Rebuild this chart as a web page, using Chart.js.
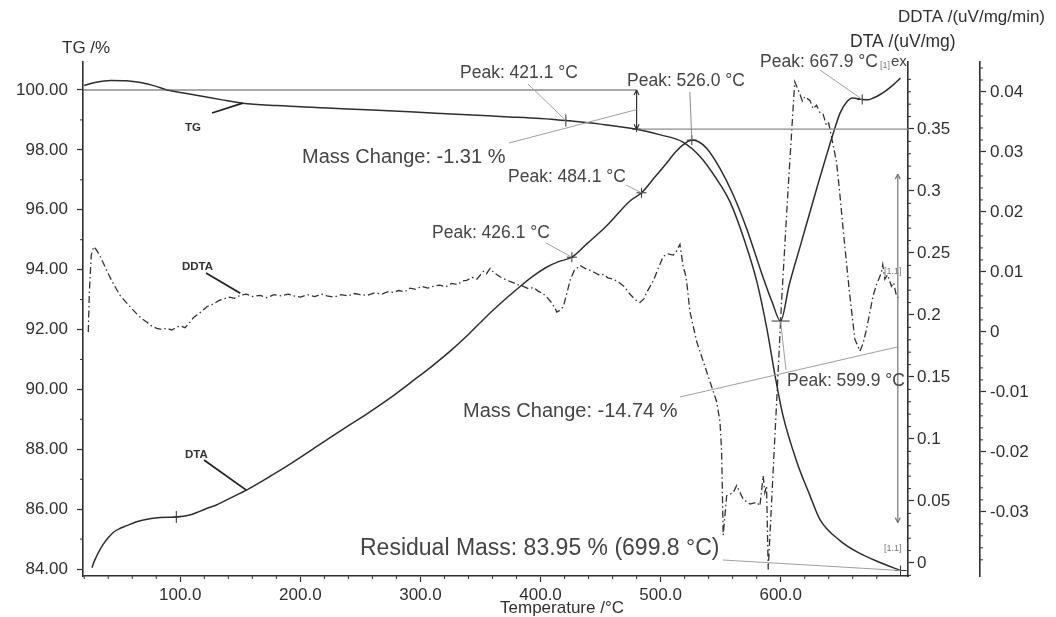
<!DOCTYPE html>
<html>
<head>
<meta charset="utf-8">
<title>TG / DTA / DDTA</title>
<script src="https://cdn.jsdelivr.net/npm/chart.js@4.4.1/dist/chart.umd.min.js"></script>
<style>
  html, body { margin: 0; padding: 0; background: #fff; }
  #wrap { width: 1056px; height: 617px; }
</style>
</head>
<body>
<div id="wrap"><canvas id="c" width="1056" height="617"></canvas></div>
<script>
// ---- Measured curves (temperature in °C) ----
// TG: mass in %
const tgTemp = [20, 30, 42, 55, 67, 80, 89, 100, 117, 135, 152, 180, 222, 260, 291, 330, 370, 400,
  421.1, 450, 480, 500, 518.6, 532.8, 545.2, 557.7, 570.2, 580.2, 588.5, 595.2, 601.8, 613.5,
  624.3, 632.6, 649.3, 665.9, 682.6, 699.8];
const tgMass = [100.15, 100.26, 100.32, 100.31, 100.25, 100.12, 100.00, 99.92, 99.80, 99.67, 99.56,
  99.48, 99.40, 99.33, 99.27, 99.19, 99.11, 99.05, 98.98, 98.86, 98.69, 98.50, 98.26, 97.78, 97.11,
  96.27, 94.93, 93.59, 92.02, 90.48, 89.14, 87.57, 86.46, 85.66, 84.95, 84.52, 84.22, 83.95];

// DTA: uV/mg
const dtaTemp = [26.5, 28, 30, 33, 36.1, 40, 44.4, 50, 55.5, 63, 72.3, 83.4, 96.7, 107, 116.6, 123,
  130.5, 142, 155.5, 175, 194.3, 215, 235.9, 257, 277.5, 295, 310, 325, 338.6, 352, 366.3, 380,
  394, 405, 415, 426.1, 438.5, 455.1, 474.5, 484.1, 495, 505.1, 512, 518.9, 526.0, 532,
  538.3, 549.4, 560.5, 571.6, 585.2, 593, 599.9, 607, 616.2, 630.1, 643.9, 649.5, 655.1, 660,
  667.9, 673, 677.5, 682.8, 688, 693.9, 699.8];
const dtaSignal = [-0.0038, 0.0005, 0.0048, 0.0105, 0.0154, 0.0203, 0.0248, 0.0280, 0.0301, 0.0330,
  0.0353, 0.0366, 0.0371, 0.0385, 0.0418, 0.0443, 0.0470, 0.0525, 0.0590, 0.0700, 0.0816, 0.0948,
  0.1081, 0.1213, 0.1350, 0.1478, 0.1590, 0.1710, 0.1830, 0.1960, 0.2090, 0.2205, 0.2315,
  0.2385, 0.2430, 0.2466, 0.2573, 0.2719, 0.2919, 0.2985, 0.3110, 0.3226, 0.3310, 0.3373, 0.3410,
  0.3395, 0.3345, 0.3183, 0.2968, 0.2698, 0.2306, 0.2100, 0.1951, 0.2240, 0.2553, 0.3024, 0.3470,
  0.3630, 0.3720, 0.3750, 0.3738, 0.3736, 0.3752, 0.3778, 0.3812, 0.3858, 0.3911];

// DDTA: uV/mg/min
const ddtaTemp = [23.4, 24.3, 25.9, 27.9, 30.1, 33, 36.1, 40, 44.4, 50.1, 55.5, 60, 63.8, 68, 72.3,
  76, 80.5, 85, 88.9, 93, 97, 100, 104, 108, 111.1, 116, 122.2, 128, 132, 136, 141, 145, 150, 155,
  160, 166.6, 172, 178, 184, 190, 194.1, 200, 206, 212, 218, 222.1, 228, 234, 240, 245, 249.8, 256,
  262, 268, 273, 277.3, 282, 287, 291.4, 296, 301, 306, 310.8, 316, 321, 326, 331, 335, 338.6, 343,
  347, 352.4, 355, 358, 361, 366.3, 371, 376, 381, 385.7, 390, 394, 398, 402, 405.2, 409, 412,
  413.5, 416, 419, 422, 424.6, 428, 432.9, 437, 441, 445, 449.5, 453, 456, 460, 463.4, 467, 470,
  474, 477.3, 480, 482.8, 486, 489, 493.9, 498, 502.2, 506, 510.5, 513, 516.1, 518.9, 520.3, 521.7,
  524.4, 530, 535.5, 541.1, 546.6, 549.4, 550.8, 552.1, 555, 560.5, 563.3, 568.8, 574.4, 580, 582.7,
  585.4, 586.8, 588.2, 589.6, 593.8, 596.6, 600.7, 606, 611.7, 615.9, 618, 620, 624.3, 627, 629.8,
  633, 635.3, 638.1, 640, 642.3, 646.5, 649, 652, 655, 657.6, 661.7, 665.9, 668.5, 671.4, 674,
  676.9, 680, 683.9, 685, 686.7, 689, 692.2, 694, 696.4, 698];
const ddtaSignal = [0.0000, 0.0067, 0.0128, 0.0142, 0.0137, 0.0127, 0.0114, 0.0097, 0.0080, 0.0060,
  0.0048, 0.0038, 0.0030, 0.0022, 0.0016, 0.0010, 0.0006, 0.0004, 0.0006, 0.0003, 0.0008, 0.0010,
  0.0007, 0.0016, 0.0024, 0.0031, 0.0042, 0.0047, 0.0052, 0.0055, 0.0058, 0.0056, 0.0061, 0.0063,
  0.0059, 0.0061, 0.0057, 0.0062, 0.0060, 0.0063, 0.0060, 0.0058, 0.0062, 0.0059, 0.0063, 0.0060,
  0.0058, 0.0062, 0.0060, 0.0064, 0.0062, 0.0061, 0.0065, 0.0063, 0.0067, 0.0066, 0.0069, 0.0067,
  0.0073, 0.0071, 0.0076, 0.0073, 0.0076, 0.0078, 0.0075, 0.0081, 0.0079, 0.0085, 0.0086, 0.0091,
  0.0088, 0.0101, 0.0097, 0.0106, 0.0099, 0.0092, 0.0087, 0.0083, 0.0079, 0.0076, 0.0072, 0.0074,
  0.0068, 0.0064, 0.0058, 0.0049, 0.0040, 0.0033, 0.0036, 0.0042, 0.0065, 0.0086, 0.0102, 0.0111,
  0.0106, 0.0103, 0.0099, 0.0094, 0.0096, 0.0090, 0.0088, 0.0085, 0.0080, 0.0075, 0.0064, 0.0057,
  0.0052, 0.0049, 0.0055, 0.0068, 0.0085, 0.0106, 0.0126, 0.0130, 0.0128, 0.0134, 0.0146, 0.0107,
  0.0099, 0.0084, 0.0034, -0.0016, -0.0049, -0.0083, -0.0116, -0.0149, -0.0199, -0.0339, -0.0273,
  -0.0268, -0.0256, -0.0279, -0.0287, -0.0284, -0.0290, -0.0240, -0.0268, -0.0257, -0.0396, -0.0228,
  -0.0117, 0.0050, 0.0233, 0.0417, 0.0397, 0.0385, 0.0392, 0.0386, 0.0372, 0.0378, 0.0364, 0.0363,
  0.0344, 0.0348, 0.0325, 0.0283, 0.0235, 0.0171, 0.0110, 0.0060, -0.0012, -0.0032, -0.0020, 0.0004,
  0.0030, 0.0060, 0.0080, 0.0099, 0.0112, 0.0088, 0.0095, 0.0076, 0.0082, 0.0060, 0.0057];

// ---- Evaluation results ----
const tgPeaks = [421.1];
const dtaPeaks = [426.1, 484.1, 526.0, 599.9, 667.9];
const stepBoundary = 480;          // °C, end of first mass step
const massStart = 100.00;          // %
const massChanges = [-1.31, -14.74];
const residualMass = 83.95, residualTemp = 699.8;

// ---- Axis tick values ----
const tempTicks = [100, 200, 300, 400, 500, 600];
const tgTicks = [84, 86, 88, 90, 92, 94, 96, 98, 100];
const dtaTicks = [0, 0.05, 0.1, 0.15, 0.2, 0.25, 0.3, 0.35];
const ddtaTicks = [-0.03, -0.02, -0.01, 0, 0.01, 0.02, 0.03, 0.04];

const FONT = '"Liberation Sans", Arial, Helvetica, sans-serif';
const INK = '#303030';
const NOTE = '#454545';
const POINTER = '#a0a0a0';

const toPoints = (xs, ys) => xs.map((x, i) => ({ x, y: ys[i] }));

function valueAt(xs, ys, t) {
  for (let i = 1; i < xs.length; i++) {
    if (t <= xs[i]) {
      const f = (t - xs[i - 1]) / (xs[i] - xs[i - 1]);
      return ys[i - 1] + f * (ys[i] - ys[i - 1]);
    }
  }
  return ys[ys.length - 1];
}

const fixedTicks = (values) => (s) => { s.ticks = values.map(v => ({ value: v })); };
const trimNum = (v) => String(+v.toFixed(2));

function seg(ctx, x1, y1, x2, y2, color, w) {
  ctx.beginPath();
  ctx.moveTo(x1, y1);
  ctx.lineTo(x2, y2);
  ctx.strokeStyle = color;
  ctx.lineWidth = w;
  ctx.stroke();
}
function label(ctx, str, x, y, size, color, align, weight) {
  ctx.font = (weight ? weight + ' ' : '') + size + 'px ' + FONT;
  ctx.fillStyle = color;
  ctx.textAlign = align || 'left';
  ctx.textBaseline = 'middle';
  ctx.fillText(str, x, y);
}
function cross(ctx, x, y, hw, hh) {
  seg(ctx, x - hw, y, x + hw, y, INK, 1);
  seg(ctx, x, y - hh, x, y + hh, INK, 1);
}
function vArrow(ctx, x, y1, y2, color, w) {
  seg(ctx, x, y1, x, y2, color, w);
  const d = y2 > y1 ? 1 : -1;
  seg(ctx, x - 2.5, y1 + d * 5, x, y1, color, w);
  seg(ctx, x + 2.5, y1 + d * 5, x, y1, color, w);
  seg(ctx, x - 2.5, y2 - d * 5, x, y2, color, w);
  seg(ctx, x + 2.5, y2 - d * 5, x, y2, color, w);
}

// Minor ticks, mass-step construction, peak markers and all captions
const annotate = {
  id: 'annotate',
  beforeDraw(chart) {
    const ctx = chart.ctx;
    ctx.save();
    ctx.fillStyle = '#ffffff';
    ctx.fillRect(0, 0, chart.width, chart.height);
    ctx.restore();
  },
  afterDraw(chart) {
    const ctx = chart.ctx;
    const X = chart.scales.x, TG = chart.scales.yTG, DT = chart.scales.yDTA, DD = chart.scales.yDDTA;
    const px = t => X.getPixelForValue(t);
    const tgY = v => TG.getPixelForValue(v);
    const dtY = v => DT.getPixelForValue(v);
    const ddY = v => DD.getPixelForValue(v);
    const tgAt = t => tgY(valueAt(tgTemp, tgMass, t));
    const dtAt = t => dtY(valueAt(dtaTemp, dtaSignal, t));
    const ddAt = t => ddY(valueAt(ddtaTemp, ddtaSignal, t));

    ctx.save();
    ctx.lineCap = 'butt';

    // minor ticks
    for (let k = 1; k <= 35; k++) if (k % 5) seg(ctx, px(k * 20), X.top, px(k * 20), X.top + 3, INK, 1);
    for (let v = 85; v <= 99; v += 2) seg(ctx, TG.right - 3, tgY(v), TG.right, tgY(v), INK, 1);
    for (let k = -1; k <= 40; k++) if (k % 5) seg(ctx, DT.left, dtY(k / 100), DT.left + 3, dtY(k / 100), INK, 1);
    for (let k = -20; k <= 22; k++) if (k % 5) seg(ctx, DD.left, ddY(k / 500), DD.left + 3, ddY(k / 500), INK, 1);

    // mass-step construction
    const m1 = massStart + massChanges[0];
    const m2 = m1 + massChanges[1];
    seg(ctx, X.left, tgY(massStart), px(stepBoundary), tgY(massStart), '#555', 1.2);
    seg(ctx, px(stepBoundary), tgY(m1), X.right, tgY(m1), '#8a8a8a', 1.2);
    vArrow(ctx, px(stepBoundary), tgY(massStart), tgY(m1), '#333', 1.2);
    const arrowT = 697.5;
    vArrow(ctx, px(arrowT), tgY(m1 - 1.5), tgY(m2 + 1.6), '#777', 1.2);

    // markers
    cross(ctx, px(tgPeaks[0]), tgAt(tgPeaks[0]), 5, 6);
    cross(ctx, px(stepBoundary), tgY(m1), 4, 3);
    cross(ctx, px(residualTemp), tgY(residualMass), 6, 5);
    cross(ctx, px(96.7), dtAt(96.7), 4, 6);
    dtaPeaks.forEach((t, i) => cross(ctx, px(t), dtAt(t), i === 3 ? 9 : 5, i === 3 ? 3 : 5));

    // pointer lines
    seg(ctx, 528, 84, px(tgPeaks[0]), tgAt(tgPeaks[0]), POINTER, 1);
    seg(ctx, 546, 243, px(dtaPeaks[0]), dtAt(dtaPeaks[0]), POINTER, 1);
    seg(ctx, 626, 185, px(dtaPeaks[1]), dtAt(dtaPeaks[1]), POINTER, 1);
    seg(ctx, px(dtaPeaks[2]) - 2, 92, px(dtaPeaks[2]), dtAt(dtaPeaks[2]), '#8a8a8a', 1);
    seg(ctx, 786, 370, px(dtaPeaks[3]), dtAt(dtaPeaks[3]), POINTER, 1);
    seg(ctx, 820, 70, px(dtaPeaks[4]), dtAt(dtaPeaks[4]), POINTER, 1);
    seg(ctx, 509, 143, px(stepBoundary), tgY((massStart + m1) / 2), POINTER, 1);
    seg(ctx, 680, 397, px(arrowT), tgY((m1 + m2) / 2 + 0.1), POINTER, 1);
    seg(ctx, 723, 560, px(residualTemp), tgY(residualMass), POINTER, 1);

    // curve name tags
    seg(ctx, 212, 113, px(152), tgAt(152), '#222', 1.8);
    seg(ctx, 206, 273, px(150), ddAt(150) - 2, '#222', 1.8);
    seg(ctx, 204, 460, px(155), dtAt(155), '#222', 1.8);
    label(ctx, 'TG', 185, 128, 11.5, '#333', 'left', 'bold');
    label(ctx, 'DDTA', 182, 267, 11.5, '#333', 'left', 'bold');
    label(ctx, 'DTA', 185, 455, 11.5, '#333', 'left', 'bold');

    // captions
    const peakText = t => 'Peak: ' + t.toFixed(1) + ' °C';
    label(ctx, peakText(tgPeaks[0]), 460, 73, 17.5, NOTE);
    label(ctx, peakText(dtaPeaks[2]), 627, 81, 17.5, NOTE);
    label(ctx, peakText(dtaPeaks[1]), 508, 177, 17.5, NOTE);
    label(ctx, peakText(dtaPeaks[0]), 432, 233, 17.5, NOTE);
    label(ctx, peakText(dtaPeaks[3]), 787, 381, 17.5, NOTE);
    label(ctx, peakText(dtaPeaks[4]), 760, 62, 17.5, NOTE);
    label(ctx, '[1]', 880, 66, 9, '#777');
    label(ctx, 'ex', 891, 62, 15, NOTE);
    label(ctx, '[1.1]', 884, 272, 9, '#777');
    label(ctx, '[1.1]', 884, 549, 9, '#777');
    label(ctx, 'Mass Change: ' + massChanges[0].toFixed(2) + ' %', 302, 157, 20, NOTE);
    label(ctx, 'Mass Change: ' + massChanges[1].toFixed(2) + ' %', 463, 411, 20, NOTE);
    label(ctx, 'Residual Mass: ' + residualMass.toFixed(2) + ' % (' + residualTemp.toFixed(1) + ' °C)',
      360, 549, 23, NOTE);

    // axis titles
    label(ctx, 'TG /%', 62, 48, 17, INK);
    label(ctx, 'DTA /(uV/mg)', 850, 42, 17.5, INK);
    label(ctx, 'DDTA /(uV/mg/min)', 898, 17, 17, INK);
    label(ctx, 'Temperature /°C', 562, 608, 17, INK, 'center');
    ctx.restore();
  }
};

const axisCommon = (ticksValues, fmt, pad) => ({
  bounds: 'data',
  afterBuildTicks: fixedTicks(ticksValues),
  ticks: { callback: fmt, color: INK, font: { family: FONT, size: 17 }, padding: pad, autoSkip: false, maxRotation: 0 },
  grid: { display: true, drawOnChartArea: false, drawTicks: true, tickLength: 6, tickColor: INK, tickWidth: 1.2 },
  border: { display: true, color: INK, width: 1.6 }
});

new Chart(document.getElementById('c'), {
  type: 'line',
  data: {
    datasets: [
      { label: 'TG', data: toPoints(tgTemp, tgMass), yAxisID: 'yTG', borderColor: '#2e2e2e',
        borderWidth: 1.5, pointRadius: 0, cubicInterpolationMode: 'monotone' },
      { label: 'DTA', data: toPoints(dtaTemp, dtaSignal), yAxisID: 'yDTA', borderColor: '#2e2e2e',
        borderWidth: 1.5, pointRadius: 0, cubicInterpolationMode: 'monotone' },
      { label: 'DDTA', data: toPoints(ddtaTemp, ddtaSignal), yAxisID: 'yDDTA', borderColor: '#333',
        borderWidth: 1.3, pointRadius: 0, tension: 0, borderDash: [7, 3, 1.5, 3] }
    ]
  },
  options: {
    responsive: false,
    animation: false,
    devicePixelRatio: 1,
    layout: { padding: { top: 62, left: 0, right: 0, bottom: 0 } },
    plugins: { legend: { display: false }, tooltip: { enabled: false } },
    scales: {
      x: Object.assign(axisCommon(tempTicks, v => v.toFixed(1), 3), {
        type: 'linear', position: 'bottom', min: 19, max: 706,
        afterFit: s => { s.height = 41; }
      }),
      yTG: Object.assign(axisCommon(tgTicks, v => v.toFixed(2), 9), {
        type: 'linear', position: 'left', min: 83.767, max: 100.935,
        afterFit: s => { s.width = 83; }
      }),
      yDTA: Object.assign(axisCommon(dtaTicks, trimNum, 3), {
        type: 'linear', position: 'right', min: -0.0105, max: 0.404,
        afterFit: s => { s.width = 72; }
      }),
      yDDTA: Object.assign(axisCommon(ddtaTicks, trimNum, 4), {
        type: 'linear', position: 'right', min: -0.0407, max: 0.0450,
        afterFit: s => { s.width = 76; }
      })
    }
  },
  plugins: [annotate]
});
</script>
</body>
</html>
